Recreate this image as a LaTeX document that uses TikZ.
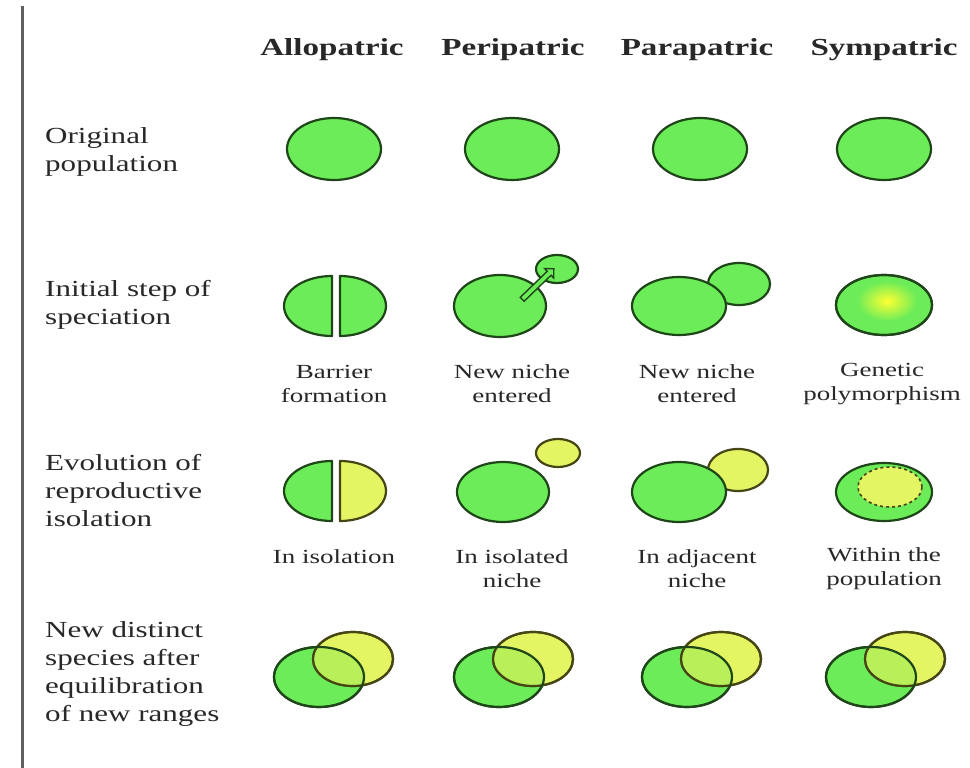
\documentclass[tikz,border=0pt]{standalone}
\usepackage{fontspec}
\setmainfont[FakeStretch=1.35]{Liberation Serif}
\usetikzlibrary{shapes.geometric,shapes.arrows}
\definecolor{gfill}{RGB}{108,236,88}
\definecolor{gline}{RGB}{30,70,25}
\definecolor{yfill}{RGB}{228,245,100}
\definecolor{ovl}{RGB}{185,240,90}
\definecolor{yline}{RGB}{70,70,20}
\definecolor{txt}{RGB}{40,40,40}
\definecolor{vline}{RGB}{95,95,95}
\tikzset{
 pop/.style={ellipse, draw=gline, fill=gfill, line width=2.2pt, inner sep=0pt},
 ypop/.style={ellipse, draw=yline, fill=yfill, line width=2.2pt, inner sep=0pt},
 rim/.style={ellipse, draw=gline, line width=2.2pt, inner sep=0pt},
 yrim/.style={ellipse, draw=yline, line width=2.2pt, inner sep=0pt},
 head/.style={font=\fontsize{24.5}{28}\selectfont\bfseries, text=txt, inner sep=0pt},
 rowlab/.style={font=\fontsize{23}{28}\selectfont, text=txt, align=left, anchor=west, inner sep=0pt},
 sublab/.style={font=\fontsize{20}{24}\selectfont, text=txt, align=center, inner sep=0pt},
 half/.style={draw=gline, fill=gfill, line width=2.2pt, line join=round},
}
\begin{document}
\begin{tikzpicture}[x=1pt,y=-1pt]
\useasboundingbox (0,0) rectangle (970,768);
\fill[white] (0,0) rectangle (970,768);
% vertical rule
\coordinate (vt) at (22,6);
\coordinate (vb) at (22,768);
\draw[vline, line width=3pt] (vt) -- (vb);

% headers
\node[head] (hA) at (332,50) {Allopatric};
\node[head] (hB) at (513,50) {Peripatric};
\node[head] (hC) at (697,50) {Parapatric};
\node[head] (hD) at (884,50) {Sympatric};

% row labels
\node[rowlab] (r1) at (45,152) {Original\\population};
\node[rowlab] (r2) at (45,305) {Initial step of\\speciation};
\node[rowlab] (r3) at (45,491) {Evolution of\\reproductive\\isolation};
\node[rowlab] (r4) at (45,674) {New distinct\\species after\\equilibration\\of new ranges};

% row 1
\node[pop, minimum width=94pt, minimum height=62pt] (p1a) at (334,149) {};
\node[pop, minimum width=94pt, minimum height=62pt] (p1b) at (512,149) {};
\node[pop, minimum width=94pt, minimum height=62pt] (p1c) at (700,149) {};
\node[pop, minimum width=94pt, minimum height=62pt] (p1d) at (884,149) {};

% row 2
\draw[half] (332,336) arc[start angle=90, end angle=270, x radius=48, y radius=30] -- cycle;
\draw[half] (340,276) arc[start angle=270, end angle=450, x radius=46, y radius=30] -- cycle;
\node[pop, minimum width=42pt, minimum height=28pt] (p2bs) at (557,269) {};
\node[pop, minimum width=92pt, minimum height=62pt] (p2b) at (500,306) {};
\node[single arrow, draw=gline, fill=gfill, line width=1.4pt, minimum height=44pt, minimum width=13pt,
      single arrow head extend=3pt, inner sep=1.5pt, rotate=44] (arr) at (537,285) {};
\node[pop, minimum width=62pt, minimum height=42pt] (p2cs) at (739,284) {};
\node[pop, minimum width=94pt, minimum height=58pt] (p2c) at (679,306) {};
\node[pop, minimum width=96pt, minimum height=60pt] (p2d) at (884,305) {};
\shade[inner color=yellow!80!white, outer color=gfill] (887,301) ellipse[x radius=30, y radius=20];
\node[rim, minimum width=96pt, minimum height=60pt] (p2dr) at (884,305) {};

\node[sublab] (l2a) at (334,384) {Barrier\\formation};
\node[sublab] (l2b) at (512,384) {New niche\\entered};
\node[sublab] (l2c) at (697,384) {New niche\\entered};
\node[sublab] (l2d) at (882,384) {Genetic\\polymorphism};

% row 3
\draw[half] (332,521) arc[start angle=90, end angle=270, x radius=48, y radius=30] -- cycle;
\draw[half, draw=yline, fill=yfill] (340,461) arc[start angle=270, end angle=450, x radius=46, y radius=30] -- cycle;
\node[pop, minimum width=92pt, minimum height=60pt] (p3b) at (503,492) {};
\node[ypop, minimum width=44pt, minimum height=28pt] (p3bs) at (558,453) {};
\node[ypop, minimum width=60pt, minimum height=42pt] (p3cs) at (738,470) {};
\node[pop, minimum width=94pt, minimum height=60pt] (p3c) at (679,492) {};
\node[pop, minimum width=96pt, minimum height=58pt] (p3d) at (884,492) {};
\node[ypop, dashed, line width=1.6pt, minimum width=64pt, minimum height=40pt] (p3ds) at (890,487) {};

\node[sublab] (l3a) at (334,557) {In isolation};
\node[sublab] (l3b) at (512,569) {In isolated\\niche};
\node[sublab] (l3c) at (697,569) {In adjacent\\niche};
\node[sublab] (l3d) at (884,569) {Within the\\population};

% row 4
\foreach \c/\n in {332/a,512/b,700/c,884/d}{
  \node[pop, minimum width=90pt, minimum height=60pt] (g4\n) at (\c-13,677) {};
  \node[ypop, minimum width=80pt, minimum height=54pt] (y4\n) at (\c+21,659) {};
  \begin{scope}
    \clip (\c-13,677) ellipse[x radius=45, y radius=30];
    \fill[ovl] (\c+21,659) ellipse[x radius=40, y radius=27];
  \end{scope}
  \node[yrim, minimum width=80pt, minimum height=54pt] (yo4\n) at (\c+21,659) {};
  \node[rim, minimum width=90pt, minimum height=60pt] (o4\n) at (\c-13,677) {};
}
\end{tikzpicture}
\end{document}
